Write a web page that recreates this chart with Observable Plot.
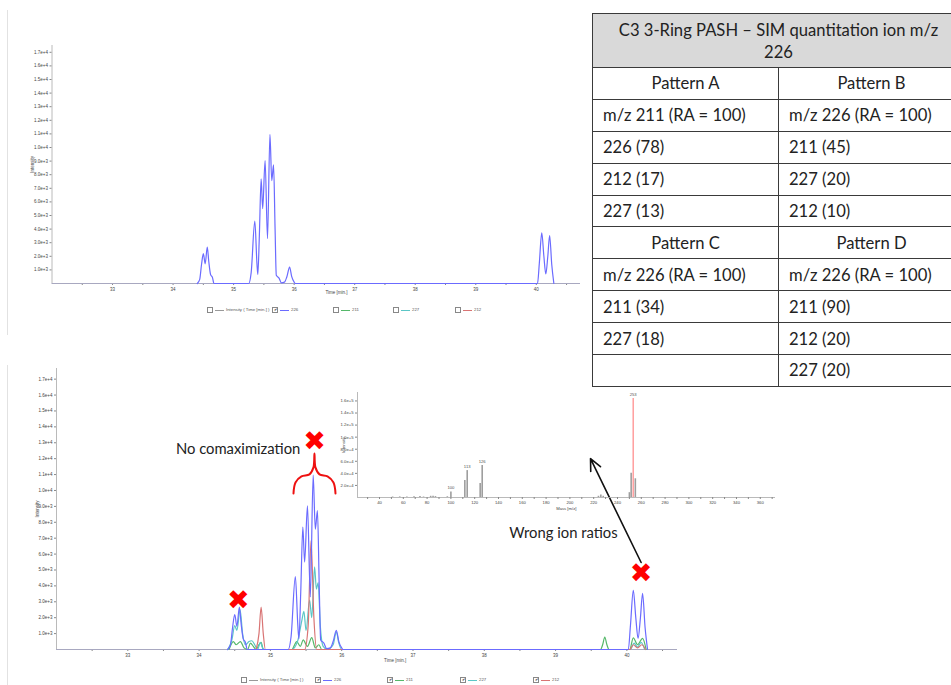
<!DOCTYPE html>
<html><head><meta charset="utf-8">
<script src="https://cdn.jsdelivr.net/npm/d3@7"></script>
<script src="https://cdn.jsdelivr.net/npm/@observablehq/plot@0.6"></script>
<style>
html,body{margin:0;padding:0;background:#fff;}
body{width:951px;height:685px;overflow:hidden;position:relative;font-family:"Liberation Sans",Arial,sans-serif;}
.abs{position:absolute;}
.vline{position:absolute;left:7px;width:0;border-left:1px solid #e2e2e2;}
table.pat{position:absolute;left:592px;top:13px;width:372px;border-collapse:collapse;table-layout:fixed;font-family:Lato,"Open Sans",sans-serif;font-size:16.6px;color:#222;}
table.pat td,table.pat th{border:1.5px solid #3a3a3a;padding:0 0 0 10px;height:30.9px;text-align:left;font-weight:normal;white-space:nowrap;}
table.pat th{background:#d9d9d9;height:53px;text-align:center;padding:0;line-height:22px;}
table.pat td.c{text-align:center;padding:0;}
.leg{position:absolute;font-size:4.3px;color:#555;white-space:nowrap;line-height:6px;}
.leg .box{display:inline-block;width:4px;height:4px;border:0.6px solid #888;vertical-align:middle;font-size:4px;line-height:4px;text-align:center;color:#222;}
.leg .ln{display:inline-block;width:9px;height:0;border-top:1px solid;vertical-align:middle;margin:0 2px;}
</style></head><body>
<script>
// ---------- chromatogram data (time in min, intensity in counts) ----------
const t226 = [34.40,34.44,34.47,34.50,34.53,34.565,34.59,34.62,34.65,34.675,35.25,35.29,35.35,35.385,35.40,35.425,35.455,35.48,35.52,35.56,35.60,35.63,35.66,35.685,35.705,35.75,35.79,35.84,35.88,35.925,35.96,36.00,36.02,40.02,40.05,40.09,40.125,40.157,40.19,40.22,40.255,40.29];
const i226 = [0,300,1400,2200,1450,2670,1600,650,450,0,0,800,4580,1500,660,3500,7700,5500,9040,3300,10960,7570,8730,4000,600,400,50,100,500,1200,500,100,0,0,1500,3720,2000,700,2000,3530,1400,0];

const t227 = [34.40,34.46,34.50,34.53,34.575,34.61,34.65,34.70,34.74,34.78,34.82,34.86,34.89,34.92,35.30,35.38,35.44,35.47,35.50,35.55,35.58,35.62,35.645,35.67,35.70,35.74,35.80,35.88,35.925,35.96,36.00,40.05,40.10,40.15,40.20,40.25];
const i227 = [0,600,1500,1200,2500,1000,300,500,550,300,0,450,100,0,0,500,1800,2400,1200,3100,2000,5200,3800,4200,1500,200,0,300,1100,400,0,0,400,150,450,0];

const t211 = [34.42,34.48,34.52,34.58,34.63,34.68,34.72,34.76,34.80,34.84,34.87,34.90,35.30,35.37,35.42,35.46,35.52,35.58,35.63,35.68,35.72,39.63,39.66,39.69,39.72,39.75,40.04,40.09,40.15,40.22,40.27];
const i211 = [0,500,300,500,100,0,400,200,0,300,450,0,0,500,200,600,200,750,100,300,0,0,300,780,300,0,0,730,300,700,0];

const t212 = [34.80,34.84,34.87,34.90,34.93,35.48,35.53,35.57,35.61,35.65,40.04,40.09,40.15,40.21,40.26];
const i212 = [0,1000,2660,1000,0,0,1500,6850,2000,0,0,300,100,300,0];

const ionNames = ["226","211","227","212"];
const ionColors = ["#6b6bff","#55b86a","#5cc6c6","#d97474"];

// ---------- axis ticks ----------
const timeTicks = [32.5,33,33.5,34,34.5,35,35.5,36,36.5,37,37.5,38,38.5,39,39.5,40,40.5];
const intensityTicks = [1000,2000,3000,4000,5000,6000,7000,8000,9000,10000,11000,12000,13000,14000,15000,16000,17000];

// ---------- inset mass spectrum ----------
const msMz   = [51,57,63,69,74,77,83,85,87,97,100,111.7,113.7,124.6,126.3,224,226,228,250,251.5,255];
const msInt  = [800,1000,800,1200,1500,800,2000,2200,1500,1200,9000,28000,44600,23000,53000,2000,4000,2000,8000,40000,31000];
const msBaseMz = [253.2];
const msBaseInt = [164000];
const msLabelMz = [100,113.7,126.3,253.2];
const msLabelInt = [9000,44600,53000,164000];
const msLabelText = ["100","113","126","253"];
const mzTicks = [30,40,50,60,70,80,90,100,110,120,130,140,150,160,170,180,190,200,210,220,230,240,250,260,270,280,290,300,310,320,330,340,350,360,370];
const msIntTicks = [20000,40000,60000,80000,100000,120000,140000,160000];

// ---------- annotations (bottom chart data coordinates) ----------
const crossT = [35.62,34.55,40.20];
const crossI = [13080,3080,4780];
const noteText = ["No comaximization","Wrong ion ratios"];
const noteT = [35.42,39.87];
const noteI = [12580,7300];
const braceT = [35.324,35.352,35.436,35.548,35.604,35.618,35.632,35.689,35.801,35.885,35.913];
const braceI = [9810,10500,10880,11010,11450,12330,11450,11010,10880,10500,9810];
const arrowFrom = [40.20,5470];
const arrowTo = [39.49,12000];

// ---------- table ----------
const tableTitle = ["C3 3-Ring PASH – SIM quantitation ion m/z","226"];
const patternHeads = [["Pattern A","Pattern B"],["Pattern C","Pattern D"]];
const patternAB = [["m/z 211 (RA = 100)","m/z 226 (RA = 100)"],["226 (78)","211 (45)"],["212 (17)","227 (20)"],["227 (13)","212 (10)"]];
const patternCD = [["m/z 226 (RA = 100)","m/z 226 (RA = 100)"],["211 (34)","211 (90)"],["227 (18)","212 (20)"],["","227 (20)"]];

// ---------- build rows ----------
const zipRows = (ts, is, ion) => ts.map((t, k) => ({t, i: is[k], ion}));
const rows226 = zipRows(t226, i226, "226");
const rowsAll = [
  ...zipRows(t211, i211, "211"),
  ...zipRows(t227, i227, "227"),
  ...zipRows(t212, i212, "212"),
  ...rows226
];
const colorOf = Object.fromEntries(ionNames.map((n,k)=>[n, ionColors[k]]));

const fmtE = d3.format(".1e");
const fmtT = d => Number.isInteger(d) ? d : "";
const axisStyle = {fontSize:"4.5px", fontFamily:"Liberation Sans, Arial", color:"#444", background:"transparent", overflow:"visible"};

function chromPlot({width, height, ml, mr, mt, mb, xmax, ymax, rows, labelT, labelDy, extra}) {
  return Plot.plot({
    width, height, marginLeft: ml, marginRight: mr, marginTop: mt, marginBottom: mb,
    x: {domain: [32, xmax]},
    y: {domain: [0, ymax]},
    style: axisStyle,
    marks: [
      Plot.ruleX([32], {stroke: "#a8a8a8", strokeWidth: 0.8}),
      Plot.axisX({ticks: timeTicks, tickFormat: fmtT, tickSize: 2, tickPadding: 2, label: null, stroke: "#888"}),
      Plot.axisY({ticks: intensityTicks, tickFormat: fmtE, tickSize: 2, tickPadding: 2, label: "Intensity", labelAnchor: "center", labelArrow: "none", labelOffset: 21, stroke: "#888"}),
      Plot.ruleY([0], {stroke: "#a8a8c0", strokeWidth: 1}),
      Plot.line(rows, {x: "t", y: "i", z: "ion", stroke: d => colorOf[d.ion], strokeWidth: 1.2, curve: "monotone-x"}),
      Plot.text([{lab: "Time [min.]", t: labelT}], {x: "t", text: "lab", frameAnchor: "bottom", dy: labelDy, fontSize: 4.5, fill: "#444"}),
      ...(extra || [])
    ]
  });
}

function place(node, left, top) {
  node.classList.add("abs");
  node.style.left = left + "px";
  node.style.top = top + "px";
  document.body.appendChild(node);
}

// faint slide edges
for (const [t, h] of [[10, 325], [365, 320]]) {
  const v = document.createElement("div"); v.className = "vline"; v.style.top = t + "px"; v.style.height = h + "px";
  document.body.appendChild(v);
}

// top chart
const topChart = chromPlot({width: 600, height: 330, ml: 51.5, mr: 20, mt: 45, mb: 47, xmax: 40.73, ymax: 17500, rows: rows226, labelT: 36.7, labelDy: 10});
place(topChart, 0, 0);

// bottom chart with annotations
const crosses = crossT.map((t,k)=>({t, i: crossI[k]}));
const notes = noteText.map((s,k)=>({s, t: noteT[k], i: noteI[k]}));
const brace = braceT.map((t,k)=>({t, i: braceI[k]}));
const annot = [
  Plot.line(brace, {x: "t", y: "i", stroke: "#ee1111", strokeWidth: 2, curve: "catmull-rom"}),
  Plot.text(crosses, {x: "t", y: "i", text: () => "✖", fill: "#ff0000", fontSize: 27, fontFamily: "DejaVu Sans"}),
  Plot.text(notes, {x: "t", y: "i", text: "s", textAnchor: "end", fontSize: 14.8, fontFamily: "Lato", fill: "#222"}),
  Plot.arrow([{x1: arrowFrom[0], y1: arrowFrom[1], x2: arrowTo[0], y2: arrowTo[1]}], {x1: "x1", y1: "y1", x2: "x2", y2: "y2", stroke: "#111", strokeWidth: 1.6, headLength: 12, headAngle: 50})
];
const bottomChart = chromPlot({width: 700, height: 345, ml: 56, mr: 23, mt: 28, mb: 36, xmax: 40.71, ymax: 17670, rows: rowsAll, labelT: 36.75, labelDy: 12, extra: annot});
place(bottomChart, 0, 340);

// inset spectrum
const ms = msMz.map((m,k)=>({m, i: msInt[k]}));
const msBase = msBaseMz.map((m,k)=>({m, i: msBaseInt[k]}));
const msLab = msLabelMz.map((m,k)=>({m, i: msLabelInt[k], s: msLabelText[k]}));
const inset = Plot.plot({
  width: 450, height: 130, marginLeft: 27, marginRight: 5, marginTop: 7, marginBottom: 18,
  x: {domain: [21.5, 372.8]},
  y: {domain: [0, 174000]},
  style: {...axisStyle, fontSize: "4.2px"},
  marks: [
    Plot.ruleX([21.5], {stroke: "#a8a8a8", strokeWidth: 0.8}),
    Plot.ruleY([0], {stroke: "#a8a8a8", strokeWidth: 0.8}),
    Plot.axisX({ticks: mzTicks, tickFormat: d => d % 20 === 0 ? d : "", tickSize: 2, tickPadding: 2, label: null, stroke: "#888"}),
    Plot.axisY({ticks: msIntTicks, tickFormat: fmtE, tickSize: 2, tickPadding: 2, label: "Intensity", labelAnchor: "center", labelArrow: "none", labelOffset: 15, stroke: "#888"}),
    Plot.ruleX(ms, {x: "m", y1: 0, y2: "i", stroke: "#9e9e9e", strokeWidth: 1.6}),
    Plot.ruleX(msBase, {x: "m", y1: 0, y2: "i", stroke: "#ff8f8f", strokeWidth: 1.3}),
    Plot.text(msLab, {x: "m", y: "i", text: "s", dy: -4, fontSize: 4.2, fill: "#555"}),
    Plot.text([{lab: "Mass [m/z]", m: 197}], {x: "m", text: "lab", frameAnchor: "bottom", dy: 12, fontSize: 4.2, fill: "#444"})
  ]
});
place(inset, 330, 385);

// legends
function legend(top, xs, checked) {
  const labels = ["Intensity ( Time [min.] )", ...ionNames];
  const colors = ["#999", ...ionColors];
  labels.forEach((lab, k) => {
    const d = document.createElement("div");
    d.className = "leg";
    d.style.left = xs[k] + "px"; d.style.top = top + "px";
    d.innerHTML = `<span class="box">${checked[k] ? "✔" : ""}</span><span class="ln" style="border-color:${colors[k]}"></span>${lab}`;
    document.body.appendChild(d);
  });
}
legend(307, [207, 272, 333, 393, 455], [false, true, false, false, false]);
legend(677, [241, 315, 387, 460, 533], [false, true, true, true, true]);

// table
const tbl = document.createElement("table");
tbl.className = "pat";
let html = `<colgroup><col style="width:186px"><col style="width:186px"></colgroup>`;
html += `<tr><th colspan="2">${tableTitle.join("<br>")}</th></tr>`;
[[patternHeads[0], patternAB], [patternHeads[1], patternCD]].forEach(([heads, rows]) => {
  html += `<tr><td class="c">${heads[0]}</td><td class="c">${heads[1]}</td></tr>`;
  rows.forEach(r => { html += `<tr><td>${r[0]}</td><td>${r[1]}</td></tr>`; });
});
tbl.innerHTML = html;
document.body.appendChild(tbl);
</script>
</body></html>
